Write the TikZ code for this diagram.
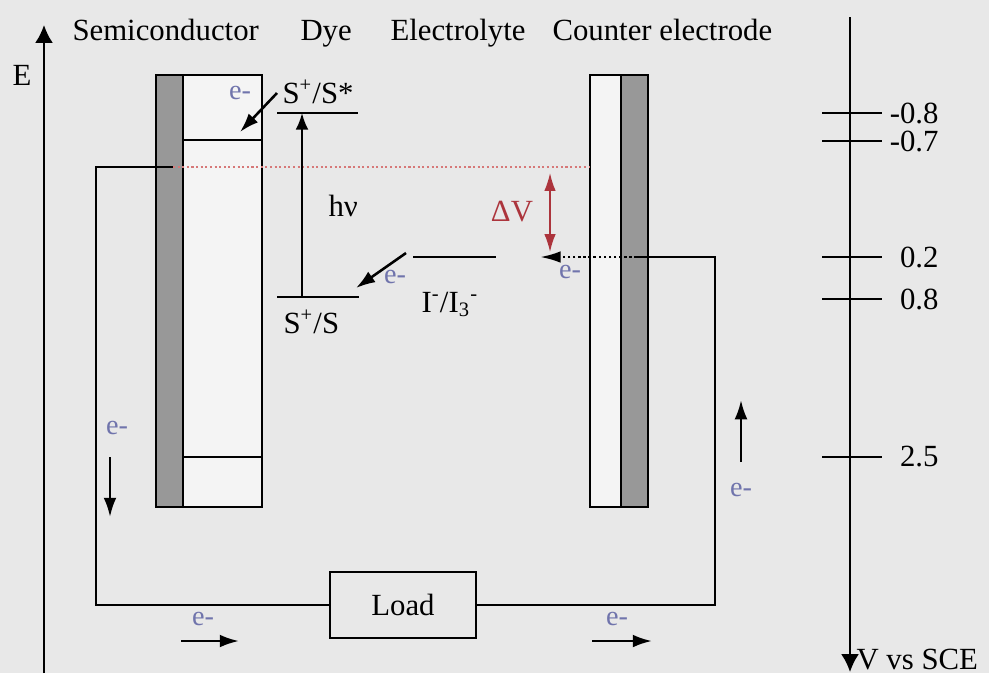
\documentclass[tikz,border=0pt]{standalone}
\usepackage{fontspec}
\setmainfont{Liberation Serif}
\usetikzlibrary{positioning,arrows.meta}
\definecolor{paper}{RGB}{232,232,232}
\definecolor{barfill}{RGB}{152,152,152}
\definecolor{boxfill}{RGB}{244,244,244}
\definecolor{eblue}{RGB}{112,116,172}
\definecolor{dvred}{RGB}{172,52,60}
\definecolor{fermi}{RGB}{214,120,120}
\tikzset{
  axarr/.style={-{Latex[length=7pt,width=7pt]},thick},
  hvarr/.style={-{Latex[length=6.5pt,width=5pt]},thick},
  earr/.style={-{Latex[length=7.5pt,width=5pt]},line width=1pt},
  dvarr/.style={{Latex[length=7pt,width=4.5pt]}-{Latex[length=7pt,width=4.5pt]},dvred,semithick},
  level/.style={thick},
  lbl/.style={inner sep=0pt,font=\fontsize{12}{14}\selectfont},
  elabel/.style={inner sep=0pt,text=eblue,font=\fontsize{11}{12}\selectfont},
  loadbox/.style={draw=black,thick,minimum width=2.01cm,minimum height=0.9cm,
                  font=\fontsize{12}{14}\selectfont}
}
\begin{document}
\begin{tikzpicture}[x=0.0137cm,y=-0.0137cm]
\useasboundingbox (0,0) rectangle (989,673);
\fill[paper] (0,0) rectangle (989,673);

% energy axis and titles
\draw[axarr] (44,673) -- (44,25);
\node[lbl] (E) at (22,75) {E};
\node[lbl,anchor=base west] (tsc)  at (72,40)  {Semiconductor};
\node[lbl,anchor=base west] (tdye) at (300,40) {Dye};
\node[lbl,anchor=base west] (tel)  at (390,40) {Electrolyte};
\node[lbl,anchor=base west] (tce)  at (552,40) {Counter electrode};

% electrodes
\filldraw[thick,fill=barfill] (156,75) rectangle (183,507);
\filldraw[thick,fill=boxfill] (183,75) rectangle (262,507);
\draw[level] (183,140) -- (262,140);
\draw[level] (183,457) -- (262,457);
\filldraw[thick,fill=boxfill] (590,75) rectangle (621,507);
\filldraw[thick,fill=barfill] (621,75) rectangle (648,507);

% circuit
\coordinate (scF) at (173,167);
\coordinate (lw)  at (96,167);
\coordinate (rw)  at (715,257);
\coordinate (ceF) at (637,257);
\coordinate (ceT) at (540,257);
\coordinate (ceL) at (590,167);
\node[loadbox] (load) at (403,605) {Load};
\draw[thick] (scF) -- (lw) |- (load.west);
\draw[thick] (load.east) -| (rw) -- (ceF);
\draw[line width=1pt,densely dotted,-{Latex[length=8pt,width=4.5pt]}] (ceF) -- (ceT);
\draw[fermi,densely dotted,thick] (scF) -- (ceL);

% dye and electrolyte levels
\draw[level] (277,113) -- (358,113);
\draw[level] (277,297) -- (359,297);
\draw[level] (413,257) -- (496,257);
\coordinate (hvB) at (302,297);
\coordinate (hvT) at (302,113);
\draw[hvarr] (hvB) -- (hvT);
\node[lbl,anchor=base west] (sstar) at (282,103) {S\textsuperscript{+}/S*};
\node[lbl,anchor=base west] (sground) at (283,333) {S\textsuperscript{+}/S};
\node[lbl,anchor=base west] (hv) at (328,216) {hν};
\node[lbl,anchor=base] (redox) at (450,312) {I\textsuperscript{-}/I\textsubscript{3}\textsuperscript{-}};

% Delta V
\coordinate (dvT) at (550,173);
\coordinate (dvB) at (550,252);
\draw[dvarr] (dvT) -- (dvB);
\node[lbl,text=dvred] (dv) at (512,212) {ΔV};

% electrons
\foreach \p [count=\i] in {(240,93),(395,277),(570,272),(117,428),(741,490),(203,619),(617,619)}
  \node[elabel] (e\i) at \p {e-};
\foreach \sx/\sy/\tx/\ty [count=\i] in {277/93/240/132, 406/253/356/288, 110/457/110/517,
    741/462/741/400, 181/641/239/641, 592/641/652/641} {
  \coordinate (f\i) at (\sx,\sy);
  \coordinate (t\i) at (\tx,\ty);
  \draw[earr] (f\i) -- (t\i);
}

% potential axis
\draw[axarr] (850,17) -- (850,672);
\foreach \y/\v [count=\i] in {113/-0.8,141/-0.7,257/0.2,299/0.8,457/2.5} {
  \draw[thick] (822,\y) -- (882,\y);
  \node[lbl,anchor=east] (v\i) at (939,\y) {\v};
}
\node[lbl,anchor=west] (vsce) at (856,660) {V vs SCE};
\end{tikzpicture}
\end{document}
